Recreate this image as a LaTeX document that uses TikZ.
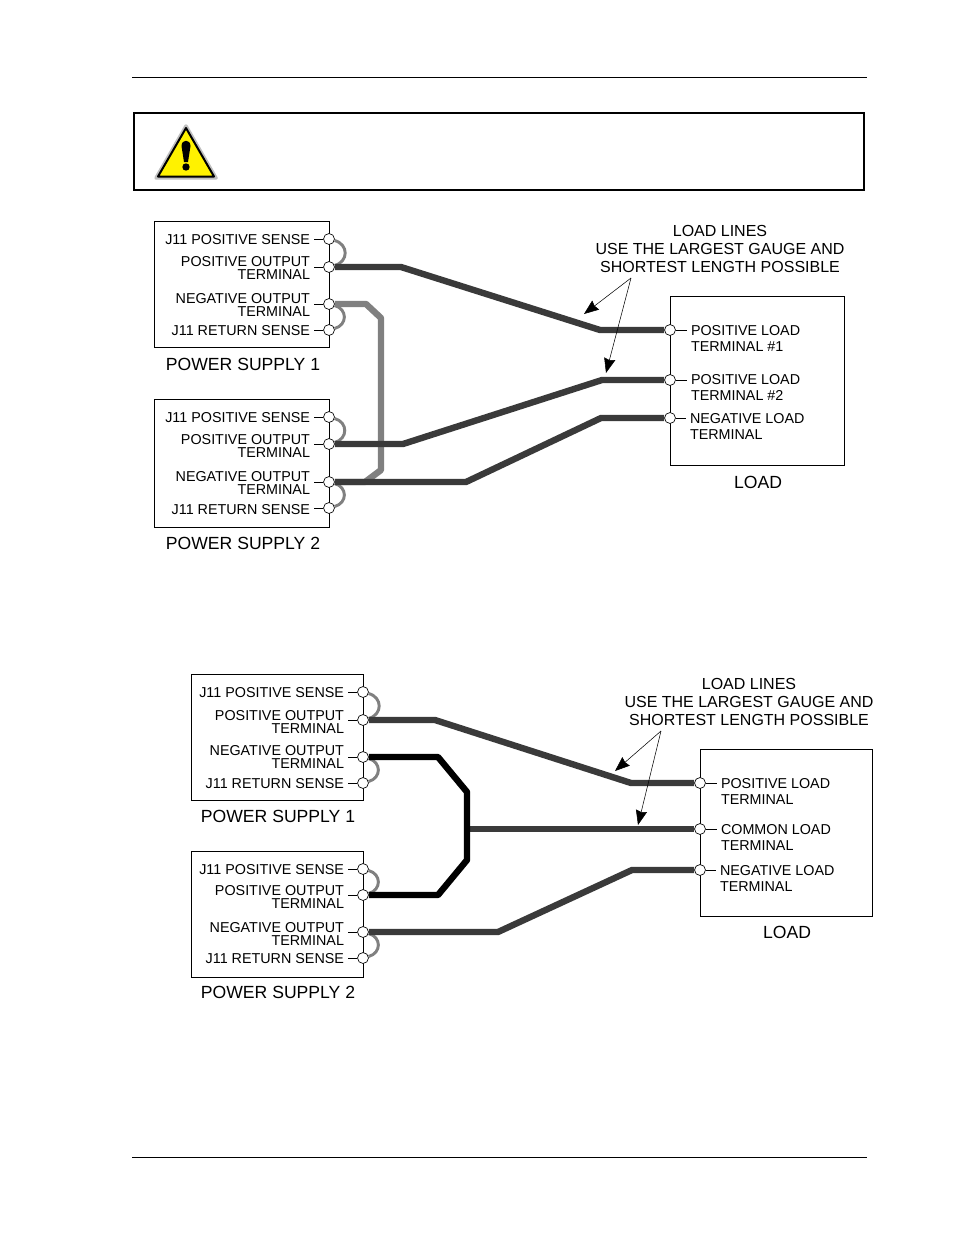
\documentclass[tikz,border=0pt]{standalone}
\usepackage{fontspec}
\setmainfont{Liberation Sans}
\usetikzlibrary{arrows.meta}
\definecolor{wiregray}{HTML}{808080}
\definecolor{loaddark}{HTML}{3A3A3A}
\begin{document}
\begin{tikzpicture}[x=0.75pt, y=-0.75pt,
    unitbox/.style={draw, line width=0.7pt},
    term/.style={circle, draw, fill=white, minimum size=8.2pt, inner sep=0pt, line width=0.5pt},
    rlabel/.style={anchor=east, align=right, inner sep=0pt, outer sep=3pt, yshift=-0.75pt, font=\fontsize{10.75}{10.2}\selectfont},
    llabel/.style={anchor=west, align=left, inner sep=0pt, outer sep=3pt, yshift=-0.75pt, font=\fontsize{10.75}{12}\selectfont},
    caption/.style={inner sep=0pt, yshift=-0.4pt, font=\fontsize{13.2}{16}\selectfont},
    note/.style={align=center, inner sep=0pt, font=\fontsize{12}{13.5}\selectfont},
    tick/.style={line width=0.5pt},
    loadline/.style={draw=loaddark, line width=4.8pt, line join=round},
    gaugewire/.style={draw=wiregray, line width=4.8pt, line join=round},
    blackwire/.style={draw=black, line width=4.8pt, line join=round},
    senseloop/.style={draw=wiregray, line width=2.2pt, out=-15, in=15, looseness=1.5},
    pointer/.style={-{Stealth[length=11pt, width=8.5pt, inset=1pt]}, line width=0.4pt}]
  \useasboundingbox (0,0) rectangle (954,1235);

  % Page rules and caution box
  \coordinate (ruletopl) at (132,77);
  \coordinate (ruletopr) at (867,77);
  \coordinate (rulebotl) at (132,1157);
  \coordinate (rulebotr) at (867,1157);
  \draw[line width=0.7pt] (ruletopl) -- (ruletopr);
  \draw[line width=0.7pt] (rulebotl) -- (rulebotr);
  \draw[line width=2pt] (134,113) rectangle (864,190);
  \draw[draw=black!25, line width=2.6pt, line join=round] (186,126) -- (216,178) -- (156,178) -- cycle;
  \draw[fill=yellow, draw=black, line width=1.5pt, line join=round] (186,128) -- (214,176.5) -- (158,176.5) -- cycle;
  \fill (181.5,146) .. controls (181.5,139) and (190.5,139) .. (190.5,146) -- (188,162) -- (184,162) -- cycle;
  \fill (186,167) circle (3.7);

  % Upper picture, nodes
  \draw[unitbox] (154,221) rectangle (329,347);
  \draw[unitbox] (154,399) rectangle (329,527);
  \draw[unitbox] (670,296) rectangle (844,465);

  \node[term] at (329,239) (ua1t) {};
  \node[term] at (329,267) (ua2t) {};
  \node[term] at (329,304) (ua3t) {};
  \node[term] at (329,330) (ua4t) {};
  \node[term] at (329,417) (ub1t) {};
  \node[term] at (329,444) (ub2t) {};
  \node[term] at (329,482) (ub3t) {};
  \node[term] at (329,508) (ub4t) {};
  \node[term] at (670,330) (uc1t) {};
  \node[term] at (670,380) (uc2t) {};
  \node[term] at (670,418) (uc3t) {};

  \node[rlabel] at (314,267) (ua2l) {POSITIVE OUTPUT\\TERMINAL};
  \node[rlabel] at (314,239) (ua1l) {J11 POSITIVE SENSE};
  \node[rlabel] at (314,304) (ua3l) {NEGATIVE OUTPUT\\TERMINAL};
  \node[rlabel] at (314,330) (ua4l) {J11 RETURN SENSE};
  \node[rlabel] at (314,417) (ub1l) {J11 POSITIVE SENSE};
  \node[rlabel] at (314,445) (ub2l) {POSITIVE OUTPUT\\TERMINAL};
  \node[rlabel] at (314,482) (ub3l) {NEGATIVE OUTPUT\\TERMINAL};
  \node[rlabel] at (314,509) (ub4l) {J11 RETURN SENSE};
  \node[llabel] at (687,337) (uc1l) {POSITIVE LOAD\\TERMINAL \#1};
  \node[llabel] at (687,386.5) (uc2l) {POSITIVE LOAD\\TERMINAL \#2};
  \node[llabel] at (686,425.5) (uc3l) {NEGATIVE LOAD\\TERMINAL};

  \node[caption] at (243,364) (ups1) {POWER SUPPLY 1};
  \node[caption] at (243,543) (ups2) {POWER SUPPLY 2};
  \node[caption] at (758,482) (uload) {LOAD};
  \node[note] at (720,249) (unote) {LOAD LINES\\USE THE LARGEST GAUGE AND\\SHORTEST LENGTH POSSIBLE};

  % Upper picture, wires
  \draw[tick] (ua1t -| ua1l.east) -- (ua1t);
  \draw[tick] (ua2t -| ua2l.east) -- (ua2t);
  \draw[tick] (ua3t -| ua3l.east) -- (ua3t);
  \draw[tick] (ua4t -| ua4l.east) -- (ua4t);
  \draw[tick] (ub1t -| ub1l.east) -- (ub1t);
  \draw[tick] (ub2t -| ub2l.east) -- (ub2t);
  \draw[tick] (ub3t -| ub3l.east) -- (ub3t);
  \draw[tick] (ub4t -| ub4l.east) -- (ub4t);
  \draw[tick] (uc1t) -- (uc1t -| uc1l.west);
  \draw[tick] (uc2t) -- (uc2t -| uc2l.west);
  \draw[tick] (uc3t) -- (uc3t -| uc3l.west);

  \draw[senseloop] (ua1t) to (ua2t);
  \draw[senseloop] (ua3t) to (ua4t);
  \draw[senseloop] (ub1t) to (ub2t);
  \draw[senseloop] (ub3t) to (ub4t);

  \draw[gaugewire] (ua3t) -- (366,304) -- (381,318) -- (381,470) -- (365,482) -- (ub3t);
  \draw[loadline] (ua2t) -- (401,267) -- (600,330) -- (uc1t);
  \draw[loadline] (ub2t) -- (403,444) -- (602,380) -- (uc2t);
  \draw[loadline] (ub3t) -- (466,482) -- (601,418) -- (uc3t);

  \coordinate (unotefoot) at (631,278);
  \coordinate (utip1) at (584,314);
  \coordinate (utip2) at (606,373);
  \draw[pointer] (unotefoot) -- (utip1);
  \draw[pointer] (unotefoot) -- (utip2);

  % Lower picture, nodes
  \draw[unitbox] (191,674) rectangle (363,800);
  \draw[unitbox] (191,851) rectangle (363,977);
  \draw[unitbox] (700,749) rectangle (872,916);

  \node[term] at (363,692) (la1t) {};
  \node[term] at (363,720) (la2t) {};
  \node[term] at (363,757) (la3t) {};
  \node[term] at (363,783) (la4t) {};
  \node[term] at (363,869) (lb1t) {};
  \node[term] at (363,895) (lb2t) {};
  \node[term] at (363,932) (lb3t) {};
  \node[term] at (363,958) (lb4t) {};
  \node[term] at (700,783) (lc1t) {};
  \node[term] at (700,829) (lc2t) {};
  \node[term] at (700,870) (lc3t) {};

  \node[rlabel] at (348,692) (la1l) {J11 POSITIVE SENSE};
  \node[rlabel] at (348,721) (la2l) {POSITIVE OUTPUT\\TERMINAL};
  \node[rlabel] at (348,756) (la3l) {NEGATIVE OUTPUT\\TERMINAL};
  \node[rlabel] at (348,783) (la4l) {J11 RETURN SENSE};
  \node[rlabel] at (348,869) (lb1l) {J11 POSITIVE SENSE};
  \node[rlabel] at (348,896) (lb2l) {POSITIVE OUTPUT\\TERMINAL};
  \node[rlabel] at (348,933) (lb3l) {NEGATIVE OUTPUT\\TERMINAL};
  \node[rlabel] at (348,958) (lb4l) {J11 RETURN SENSE};
  \node[llabel] at (717,790) (lc1l) {POSITIVE LOAD\\TERMINAL};
  \node[llabel] at (717,836) (lc2l) {COMMON LOAD\\TERMINAL};
  \node[llabel] at (716,877) (lc3l) {NEGATIVE LOAD\\TERMINAL};

  \node[caption] at (278,816) (lps1) {POWER SUPPLY 1};
  \node[caption] at (278,992) (lps2) {POWER SUPPLY 2};
  \node[caption] at (787,932) (lload) {LOAD};
  \node[note] at (749,702) (lnote) {LOAD LINES\\USE THE LARGEST GAUGE AND\\SHORTEST LENGTH POSSIBLE};

  % Lower picture, wires
  \draw[tick] (la1t -| la1l.east) -- (la1t);
  \draw[tick] (la2t -| la2l.east) -- (la2t);
  \draw[tick] (la3t -| la3l.east) -- (la3t);
  \draw[tick] (la4t -| la4l.east) -- (la4t);
  \draw[tick] (lb1t -| lb1l.east) -- (lb1t);
  \draw[tick] (lb2t -| lb2l.east) -- (lb2t);
  \draw[tick] (lb3t -| lb3l.east) -- (lb3t);
  \draw[tick] (lb4t -| lb4l.east) -- (lb4t);
  \draw[tick] (lc1t) -- (lc1t -| lc1l.west);
  \draw[tick] (lc2t) -- (lc2t -| lc2l.west);
  \draw[tick] (lc3t) -- (lc3t -| lc3l.west);

  \draw[senseloop] (la1t) to (la2t);
  \draw[senseloop] (la3t) to (la4t);
  \draw[senseloop] (lb1t) to (lb2t);
  \draw[senseloop] (lb3t) to (lb4t);

  \coordinate (lbusjoin) at (467,829);
  \draw[loadline] (la2t) -- (435,720) -- (631,783) -- (lc1t);
  \draw[loadline] (lbusjoin) -- (lc2t);
  \draw[loadline] (lb3t) -- (498,932) -- (632,870) -- (lc3t);
  \draw[blackwire] (la3t) -- (438,757) -- (467,792) -- (467,860) -- (438,895) -- (lb2t);

  \coordinate (lnotefoot) at (661,731);
  \coordinate (ltip1) at (615,771);
  \coordinate (ltip2) at (638,825);
  \draw[pointer] (lnotefoot) -- (ltip1);
  \draw[pointer] (lnotefoot) -- (ltip2);
\end{tikzpicture}
\end{document}
